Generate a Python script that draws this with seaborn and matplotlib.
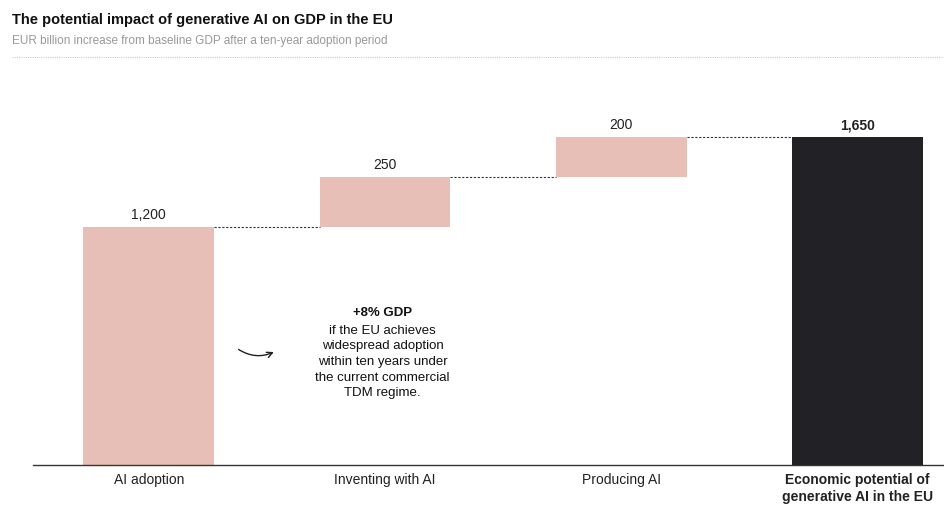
import matplotlib
matplotlib.use("Agg")
import matplotlib.pyplot as plt
import seaborn as sns
from matplotlib.patches import FancyArrowPatch

categories = ["AI adoption", "Inventing with AI", "Producing AI", "Economic potential of\ngenerative AI in the EU"]
increments = [1200, 250, 200]
total = 1650
labels = ["1,200", "250", "200", "1,650"]

sns.set_theme(style="white")
plt.rcParams['font.family'] = ['Liberation Sans', 'DejaVu Sans']

W, H = 945, 511
fig = plt.figure(figsize=(W/100, H/100), dpi=100)
ax = fig.add_axes([33/W, 46/H, 1 - 33/W, 405/H])

pink = "#e8bfb7"
dark = "#222226"
width = 0.554
bottoms = [0, increments[0], increments[0] + increments[1]]
for i, (inc, b) in enumerate(zip(increments, bottoms)):
    ax.bar(i, inc, bottom=b, width=width, color=pink, linewidth=0)
    ax.text(i, b + inc + 25, labels[i], ha="center", va="bottom", fontsize=10, color="#222")
ax.bar(3, total, width=width, color=dark, linewidth=0)
ax.text(3, total + 25, labels[3], ha="center", va="bottom", fontsize=10, color="#222", fontweight="bold")

tops = [increments[0], increments[0] + increments[1], total]
for i, t in enumerate(tops):
    ax.plot([i + width/2, i + 1 - width/2], [t, t], ls=(0, (2, 1.5)), color="#333", lw=0.8)

ax.set_xlim(-0.49, 3.37)
ax.set_ylim(0, 2040)
ax.set_xticks(range(4))
ax.set_xticklabels(categories, fontsize=10, color="#222")
for i, t in enumerate(ax.get_xticklabels()):
    if i == 3:
        t.set_fontweight("bold")
ax.tick_params(axis="x", length=0, pad=6)
ax.set_yticks([])
for s in ["top", "right", "left"]:
    ax.spines[s].set_visible(False)
ax.spines["bottom"].set_color("#333")
ax.spines["bottom"].set_linewidth(1)

ax.text(0.99, 766, "+8% GDP", ha="center", va="center", fontsize=9.5, fontweight="bold", color="#111")
ax.text(0.99, 519, "if the EU achieves\nwidespread adoption\nwithin ten years under\nthe current commercial\nTDM regime.",
        ha="center", va="center", fontsize=9.5, color="#111", linespacing=1.4)
arr = FancyArrowPatch((0.37, 590), (0.54, 575), connectionstyle="arc3,rad=0.3",
                      arrowstyle="->", mutation_scale=10, color="#222", lw=1)
ax.add_patch(arr)

fig.text(12/W, 1 - 20/H, "The potential impact of generative AI on GDP in the EU", fontsize=10.5,
         fontweight="bold", color="#111", va="center")
fig.text(12/W, 1 - 41/H, "EUR billion increase from baseline GDP after a ten-year adoption period",
         fontsize=8.5, color="#999", va="center")
fig.add_artist(plt.Line2D([12/W, 1], [1 - 57/H, 1 - 57/H], ls=(0, (1, 1)), color="#ccc", lw=0.8))

fig.savefig("out.png", dpi=100)
